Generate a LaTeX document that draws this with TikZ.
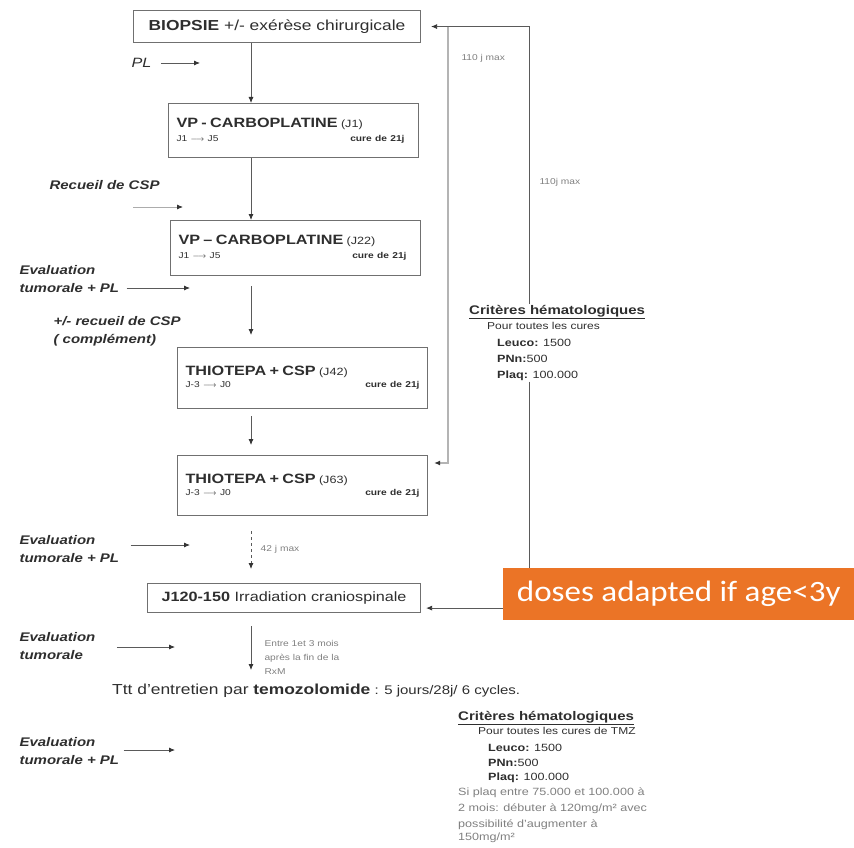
\documentclass[tikz,border=0pt]{standalone}
\usepackage{fontspec}
\setmainfont{Liberation Sans}[FakeStretch=1.2]
\newfontfamily\slidefont{Carlito}[FakeStretch=1.12]
\usetikzlibrary{arrows.meta, positioning, calc}
\definecolor{boxgray}{HTML}{707070}
\definecolor{txtgray}{HTML}{2E2E2E}
\definecolor{lngray}{HTML}{5A5A5A}
\definecolor{backgray}{HTML}{B4B4B4}
\definecolor{alertorange}{HTML}{EB7426}
\tikzset{
  box/.style={draw=boxgray, line width=1.1pt, anchor=north west, align=left,
    inner xsep=8pt, inner ysep=3pt, text=txtgray},
  side/.style={anchor=west, align=left, text=txtgray,
    font=\bfseries\itshape\fontsize{12.5}{18}\selectfont},
  lnk/.style={draw=lngray, line width=0.8pt, -{Latex[length=6pt,width=5pt,color=black!80]}},
  note/.style={font=\fontsize{8.5}{14}\selectfont, text=gray, align=left},
  crit/.style={anchor=north west, align=left, text=txtgray, inner sep=1pt}
}
\newcommand{\bigt}{\fontsize{13.5}{16}\selectfont\bfseries}
\newcommand{\dayt}{\fontsize{10.5}{12}\selectfont}
\newcommand{\smallt}{\fontsize{8.5}{10}\selectfont}
\newcommand{\critt}{\fontsize{10.5}{12}\selectfont}
\newcommand{\remt}{\fontsize{10.5}{12}\selectfont\color{gray}}
\begin{document}
\begin{tikzpicture}[x=1pt, y=-1pt]
\useasboundingbox (0,0) rectangle (854,848);
% Cures
\node[box, text width=271pt, align=center, minimum height=32pt, font=\fontsize{14.5}{16}\selectfont] (biopsie) at (133,10)
  {\textbf{BIOPSIE} +/- exérèse chirurgicale};
\node[box, text width=234pt, minimum height=54pt] (vp1) at (168,103)
  {{\bigt VP - CARBOPLATINE} {\dayt (J1)}\\[2pt]
   {\smallt J1 $\longrightarrow$ J5 \hfill \textbf{cure de 21j}\hspace*{6pt}}};
\node[box, text width=234pt, minimum height=55pt] (vp2) at (170,220)
  {{\bigt VP -- CARBOPLATINE} {\dayt (J22)}\\[2pt]
   {\smallt J1 $\longrightarrow$ J5 \hfill \textbf{cure de 21j}\hspace*{6pt}}};
\node[box, text width=234pt, minimum height=61pt] (thio1) at (177,347)
  {{\bigt THIOTEPA + CSP} {\dayt (J42)}\\
   {\smallt J-3 $\longrightarrow$ J0 \hfill \textbf{cure de 21j}\hspace*{6pt}}\\[14pt]};
\node[box, text width=234pt, minimum height=60pt] (thio2) at (177,455)
  {{\bigt THIOTEPA + CSP} {\dayt (J63)}\\
   {\smallt J-3 $\longrightarrow$ J0 \hfill \textbf{cure de 21j}\hspace*{6pt}}\\[14pt]};
\node[box, text width=257pt, align=center, minimum height=29pt, font=\fontsize{13.5}{15}\selectfont] (irr) at (147,583)
  {\textbf{J120-150} Irradiation craniospinale};
\node[anchor=west, text=txtgray, inner sep=2pt] (ttt) at (110,691)
  {{\fontsize{14.5}{16}\selectfont Ttt d'entretien par \textbf{temozolomide}}{\fontsize{12.5}{13}\selectfont\ : 5 jours/28j/ 6 cycles.}};
% Main axis
\coordinate (spine) at (251,0);
\draw[lnk] (biopsie.south -| spine) -- (vp1.north -| spine);
\draw[lnk] (vp1.south -| spine) -- (vp2.north -| spine);
\draw[lnk, shorten <=10pt, shorten >=12pt] (vp2.south -| spine) -- (thio1.north -| spine);
\draw[lnk, shorten <=7pt, shorten >=10pt] (thio1.south -| spine) -- (thio2.north -| spine);
\draw[lnk, dashed, shorten <=15pt, shorten >=14pt] (thio2.south -| spine) -- (irr.north -| spine)
  node[midway, right=6pt, note] {42 j max};
\draw[lnk, shorten <=13pt, shorten >=12pt] (irr.south -| spine) -- (ttt.north -| spine);
\node[note, anchor=north west] (delai) at (261,637) {Entre 1et 3 mois\\après la fin de la\\RxM};
% Left side
\node[side, font=\itshape\fontsize{13.5}{15}\selectfont] (pl) at (128,63) {PL};
\coordinate (plend) at (200,63);
\draw[lnk, shorten <=6pt] (pl.east) -- (plend);
\node[side] (recueil) at (46,185) {Recueil de CSP};
\coordinate (recstart) at (133,207);
\coordinate (recend) at (183,207);
\draw[lnk, draw=lngray!50] (recstart) -- (recend);
\node[side] (eval1) at (16,279) {Evaluation\\tumorale + PL};
\coordinate (ev1end) at (190,288);
\draw[lnk, shorten <=4pt] (eval1.east |- ev1end) -- (ev1end);
\node[side] (compl) at (50,331) {+/- recueil de CSP\\( complément)};
\node[side] (eval2) at (16,549) {Evaluation\\tumorale + PL};
\coordinate (ev2end) at (190,545);
\draw[lnk, shorten <=8pt] (eval2.east |- ev2end) -- (ev2end);
\node[side] (eval3) at (16,646) {Evaluation\\tumorale};
\coordinate (ev3end) at (175,647);
\draw[lnk, shorten <=18pt] (eval3.east |- ev3end) -- (ev3end);
\node[side] (eval4) at (16,751) {Evaluation\\tumorale + PL};
\coordinate (ev4end) at (175,750);
\draw[lnk, shorten <=1pt] (eval4.east |- ev4end) -- (ev4end);
% Criteres
\node[crit] (crit1) at (468,304)
  {{\fontsize{12.5}{15}\selectfont\underline{\textbf{Critères hématologiques}}}\\[3pt]
   \hspace{18pt}{\fontsize{10}{12}\selectfont Pour toutes les cures}\\[5pt]
   \hspace{28pt}{\critt\textbf{Leuco:} 1500}\\[4pt]
   \hspace{28pt}{\critt\textbf{PNn:}500}\\[4pt]
   \hspace{28pt}{\critt\textbf{Plaq:} 100.000}};
\coordinate (critline) at (529,0);
\coordinate (backline) at (448,0);
\draw[lnk, shorten >=10pt] (crit1.north -| critline) |- (biopsie.east);
\draw[lnk, draw=backgray, line width=2.4pt, shorten >=6pt] (biopsie.east -| backline) |- ($(thio2.north east)+(0,8)$);
\draw[lnk, shorten >=5pt] (crit1.south -| critline) |- ($(irr.south east)+(0,-5)$);
\node[note, anchor=west] (max1) at (458,58) {110 j max};
\node[note, anchor=west] (max2) at (536,182) {110j max};
\node[crit] (crit2) at (457,710)
  {{\fontsize{12.5}{15}\selectfont\underline{\textbf{Critères hématologiques}}}\\[2pt]
   \hspace{20pt}{\fontsize{10}{12}\selectfont Pour toutes les cures de TMZ}\\[5pt]
   \hspace{30pt}{\critt\textbf{Leuco:} 1500}\\[3pt]
   \hspace{30pt}{\critt\textbf{PNn:}500}\\[2pt]
   \hspace{30pt}{\critt\textbf{Plaq:} 100.000}\\[3pt]
   {\remt Si plaq entre 75.000 et 100.000 à}\\[4pt]
   {\remt 2 mois: débuter à 120mg/m² avec}\\[4pt]
   {\remt possibilité d'augmenter à}\\[1pt]
   {\remt 150mg/m²}};
% Remark
\node[anchor=north west, fill=alertorange, text=white, minimum width=351pt, minimum height=52pt,
  inner xsep=8pt, font=\slidefont\fontsize{29.5}{31}\selectfont] (adapt) at (503,568) {doses adapted if age<3y};
\end{tikzpicture}
\end{document}
